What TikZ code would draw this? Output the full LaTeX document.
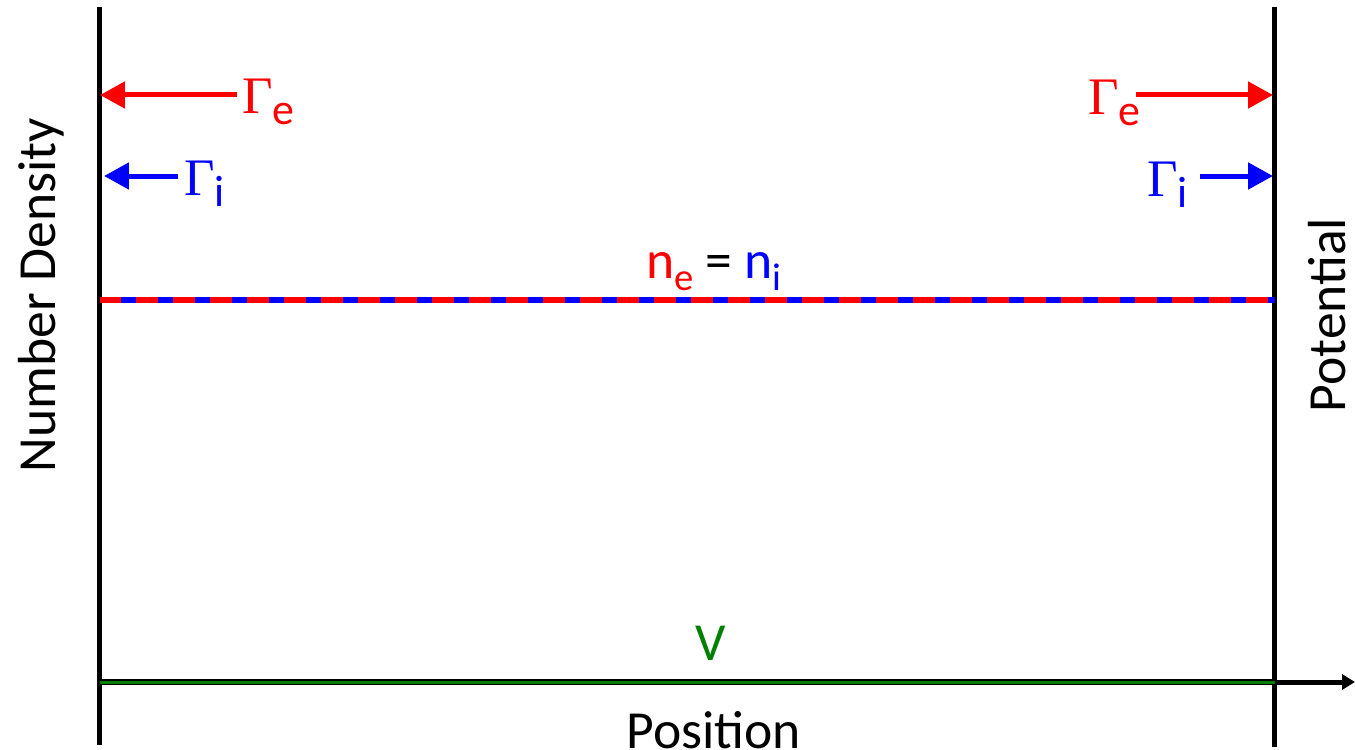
\documentclass[tikz,border=0pt]{standalone}
\usepackage{fontspec}
\setmainfont{Carlito}
\newfontfamily\gamfont{Liberation Serif}
\usetikzlibrary{arrows.meta}

\definecolor{vgreen}{RGB}{0,128,0}

\newcommand{\lblsize}{\fontsize{30.5}{36}\selectfont}
\newcommand{\nsub}[1]{\raisebox{-0.24cm}{\fontsize{22}{26}\selectfont #1}}
\newcommand{\gsub}[1]{\raisebox{-0.24cm}{\fontsize{25}{30}\selectfont #1}}
\newcommand{\flux}[1]{{\gamfont\fontsize{30}{36}\selectfont Γ}\gsub{#1}}

\tikzset{
  wall/.style={line width=0.1cm, black},
  fluxarrow/.style={line width=0.1cm, -{Triangle[length=0.5cm, width=0.52cm]}},
  lbl/.style={inner sep=0pt, font=\lblsize},
}

\begin{document}
\begin{tikzpicture}[x=0.02cm, y=-0.02cm]

\fill[white] (0,0) rectangle (1355,750);
\useasboundingbox (0,0) rectangle (1355,750);

% walls and axis
\coordinate (wl-top) at (99.5,7);
\coordinate (wl-bot) at (99.5,745);
\coordinate (wr-top) at (1274.5,7);
\coordinate (wr-bot) at (1274.5,747);
\coordinate (origin) at (99.5,682);
\coordinate (wr-axis) at (1274.5,682);
\coordinate (x-end) at (1355,682);

\draw[wall] (wl-top) -- (wl-bot);
\draw[wall] (wr-top) -- (wr-bot);
\draw[line width=0.1cm, -{Triangle[length=0.26cm, width=0.3cm]}] (origin) -- (x-end);

% potential
\draw[line width=0.11cm, black] (origin) -- (wr-axis);
\draw[line width=0.06cm, vgreen] (origin) -- (wr-axis);
\node [lbl, text=vgreen, anchor=base] (pot) at (711,660) {V};

% densities
\coordinate (dens-l) at (99.5,300);
\coordinate (dens-r) at (1274.5,300);
\draw[line width=0.11cm, blue] (dens-l) -- (dens-r);
\draw[line width=0.11cm, red, dash pattern=on 0.44cm off 0.3cm] (dens-l) -- (dens-r);
\node [lbl, anchor=base] (dens) at (714,278)
  {\textcolor{red}{n\nsub{e}} = \textcolor{blue}{n\nsub{i}}};

% fluxes
\node [lbl, text=red, anchor=base west] (ge-l) at (242,113) {\flux{e}};
\node [lbl, text=blue, anchor=base west] (gi-l) at (184,195) {\flux{i}};
\node [lbl, text=red, anchor=base west] (ge-r) at (1088,114) {\flux{e}};
\node [lbl, text=blue, anchor=base west] (gi-r) at (1147,196) {\flux{i}};

\coordinate (ge-l-s) at (237,95);
\coordinate (ge-l-t) at (100,95);
\coordinate (gi-l-s) at (178,176);
\coordinate (gi-l-t) at (104,176);
\coordinate (ge-r-s) at (1136,95);
\coordinate (ge-r-t) at (1273,95);
\coordinate (gi-r-s) at (1200,176);
\coordinate (gi-r-t) at (1273,176);

\draw[fluxarrow, red] (ge-l-s) -- (ge-l-t);
\draw[fluxarrow, blue] (gi-l-s) -- (gi-l-t);
\draw[fluxarrow, red] (ge-r-s) -- (ge-r-t);
\draw[fluxarrow, blue] (gi-r-s) -- (gi-r-t);

% axis titles
\node [lbl, rotate=90] (ylab) at (41,295) {Number Density};
\node [lbl, rotate=90] (y2lab) at (1327,315) {Potential};
\node [lbl, anchor=base] (xlab) at (714,748) {Position};

\end{tikzpicture}
\end{document}
